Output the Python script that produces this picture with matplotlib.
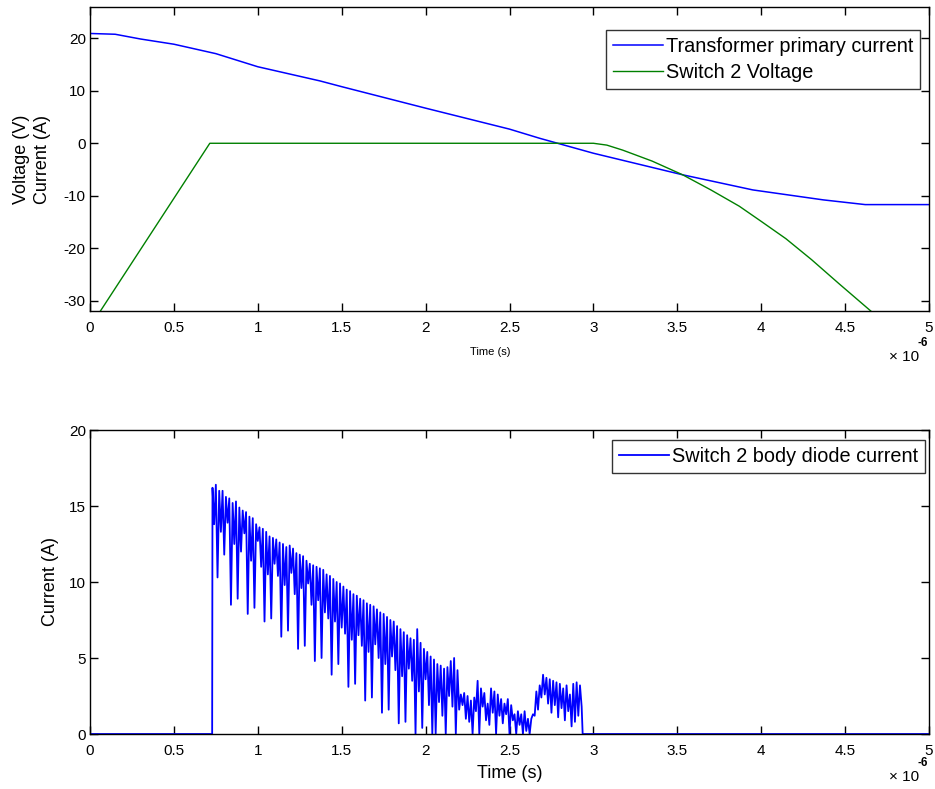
import numpy as np
import matplotlib
matplotlib.use("Agg")
import matplotlib.pyplot as plt

plt.rcParams['font.family'] = ['Liberation Sans', 'DejaVu Sans']
plt.rcParams['axes.unicode_minus'] = False

# ---------------- data (time in microseconds, axis scaled x 1e-6) ----------------
xticks = [0, 0.5, 1, 1.5, 2, 2.5, 3, 3.5, 4, 4.5, 5]
xticklabels = ['0', '0.5', '1', '1.5', '2', '2.5', '3', '3.5', '4', '4.5', '5']
top_yticks = [-30, -20, -10, 0, 10, 20]
bot_yticks = [0, 5, 10, 15, 20]

prim_t = [0, 0.15, 0.3, 0.5, 0.75, 1.0, 1.37, 1.5, 2.0, 2.5, 2.68, 3.0, 3.53,
          3.95, 4.37, 4.62, 5.0]
prim_i = [20.95, 20.8, 19.9, 18.9, 17.1, 14.6, 11.9, 10.8, 6.7, 2.7, 0.95, -1.9,
          -6.0, -8.9, -10.8, -11.7, -11.7]

sw_t = [0, 0.001, 0.714, 3.0, 3.08, 3.174, 3.35, 3.531, 3.7, 3.869, 4.0, 4.147,
        4.3, 4.464, 4.653, 4.8]
sw_v = [0, -35.0, 0, 0, -0.35, -1.3, -3.4, -6.0, -8.9, -12.0, -14.9, -18.2,
        -22.2, -26.8, -32.0, -36.0]

# body diode current: sampled every 0.01 us from 0.73 to 2.93 us
diode_start, diode_step = 0.73, 0.01
diode_i = [
    16.2, 13.8, 16.4, 10.3, 16.0, 13.3, 16.0, 11.8, 15.6, 13.9,
    15.5, 8.5, 15.2, 12.5, 15.3, 8.9, 14.9, 12.0, 14.7, 13.2,
    14.6, 7.9, 14.3, 11.4, 14.2, 8.3, 13.8, 12.7, 13.6, 11.0,
    13.5, 7.4, 13.3, 10.5, 13.0, 7.6, 12.9, 11.2, 12.8, 10.4,
    12.6, 6.4, 12.5, 9.8, 12.3, 6.8, 12.4, 10.6, 12.2, 9.2,
    11.9, 5.6, 11.8, 9.6, 11.7, 5.8, 11.4, 9.9, 11.2, 8.5,
    11.1, 4.8, 11.0, 8.8, 10.9, 5.0, 10.8, 8.0, 10.5, 7.6,
    10.4, 3.9, 10.2, 7.4, 10.0, 4.6, 9.9, 7.0, 9.7, 6.6,
    9.5, 3.1, 9.4, 6.2, 9.2, 3.3, 9.1, 6.5, 8.9, 5.8,
    8.8, 2.2, 8.6, 5.4, 8.5, 2.4, 8.4, 5.9, 8.2, 5.0,
    8.0, 1.4, 7.9, 4.6, 7.7, 1.6, 7.5, 5.1, 7.4, 4.2,
    7.1, 0.7, 6.9, 3.8, 6.7, 0.8, 6.5, 4.3, 6.3, 3.5,
    6.2, 0.0, 6.9, 2.8, 6.0, 0.4, 5.6, 3.6, 5.4, 1.9,
    5.1, 0.0, 4.9, 0.0, 4.6, 2.1, 4.5, 1.2, 4.3, 0.0,
    4.4, 2.5, 4.8, 1.8, 5.0, 0.0, 4.2, 1.6, 2.6, 1.9,
    2.7, 1.0, 2.5, 0.8, 2.2, 0.0, 2.4, 1.5, 3.5, 0.0,
    3.0, 1.8, 2.7, 0.9, 2.0, 0.6, 3.0, 1.4, 2.8, 0.0,
    2.6, 1.2, 2.3, 0.7, 2.0, 1.3, 2.3, 0.0, 1.9, 0.9,
    1.3, 0.0, 1.5, 0.6, 1.3, 0.0, 1.5, 0.2, 1.0, 0.0,
    1.0, 1.3, 1.2, 2.8, 1.6, 3.2, 2.4, 3.9, 2.6, 3.7,
    2.0, 3.6, 1.4, 3.5, 1.9, 3.4, 1.1, 3.3, 1.7, 3.0,
    0.9, 3.2, 1.5, 2.6, 0.5, 3.3, 0.8, 3.4, 1.2, 3.2, 1.8,
]
diode_pre_t = [0, 0.728]
diode_post_t = [2.936, 5.0]

labels_top = ['Transformer primary current', 'Switch 2 Voltage']
label_bot = 'Switch 2 body diode current'

# ---------------- figure ----------------
W, H = 935, 789
fig = plt.figure(figsize=(W / 100, H / 100), dpi=100)

def ax_rect(l, t, r, b):
    return [l / W, 1 - b / H, (r - l) / W, (b - t) / H]

ax1 = fig.add_axes(ax_rect(90, 7, 929, 311))
ax2 = fig.add_axes(ax_rect(90, 430, 929, 734))

blue = (0, 0, 1)
green = (0, 0.5, 0)

ax1.plot(prim_t, prim_i, color=blue, lw=1.1, label=labels_top[0])
ax1.plot(sw_t, sw_v, color=green, lw=1.0, label=labels_top[1])
ax1.set_xlim(0, 5)
ax1.set_ylim(-32, 26)
ax1.set_yticks(top_yticks)

d_t = diode_start + diode_step * np.arange(len(diode_i))
full_t = np.concatenate([diode_pre_t, d_t, diode_post_t])
full_i = np.concatenate([[0, 0], diode_i, [0, 0]])
ax2.plot(full_t, full_i, color=blue, lw=1.3, label=label_bot)
ax2.set_xlim(0, 5)
ax2.set_ylim(0, 20)
ax2.set_yticks(bot_yticks)

for ax in (ax1, ax2):
    ax.set_xticks(xticks)
    ax.set_xticklabels(xticklabels)
    ax.tick_params(direction='in', top=True, right=True, length=6, width=1.0,
                   labelsize=11, colors='black')
    ax.tick_params(axis='x', pad=7)
    ax.tick_params(axis='y', pad=3)
    for s in ax.spines.values():
        s.set_linewidth(1.0)
        s.set_color('black')

# labels
ax1.set_ylabel('Voltage (V)\nCurrent (A)', fontsize=13, linespacing=1.3)
ax1.yaxis.set_label_coords(-39 / 839, 0.5)
fig.text(490 / W, 1 - 352 / H, 'Time (s)', fontsize=8, ha='center', va='center')

ax2.set_ylabel('Current (A)', fontsize=13)
ax2.yaxis.set_label_coords(-31 / 839, 0.5)
fig.text(510 / W, 1 - 773 / H, 'Time (s)', fontsize=13, ha='center', va='center')

for ybase in (357, 777):
    fig.text(889 / W, 1 - ybase / H, '\u00d7 10', fontsize=11, ha='left', va='center')
    fig.text(917 / W, 1 - (ybase - 14) / H, '-6', fontsize=8.5, fontweight='bold',
             ha='left', va='center')

# legends
leg_kw = dict(loc='upper right', borderaxespad=0, fontsize=14.3, frameon=True,
              fancybox=False, edgecolor='black', handlelength=2.5,
              handletextpad=0.15, labelspacing=0.35, borderpad=0.35)
leg1 = ax1.legend(bbox_to_anchor=(1 - 9 / 839, 1 - 23 / 304), **leg_kw)
leg1.get_frame().set_linewidth(1.0)
leg2 = ax2.legend(bbox_to_anchor=(1 - 4 / 839, 1 - 10 / 304), **leg_kw)
leg2.get_frame().set_linewidth(1.0)

fig.savefig('out.png', dpi=100)
